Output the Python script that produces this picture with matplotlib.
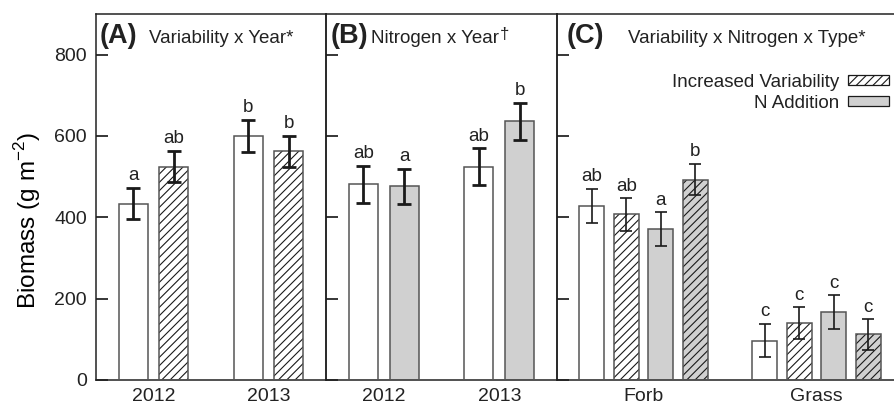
import matplotlib
matplotlib.use("Agg")
import matplotlib.pyplot as plt
from matplotlib.patches import Patch
import numpy as np

# ---- data ----
years = ["2012", "2013"]
types = ["Forb", "Grass"]

# (A) variability x year
a_ctrl = [434, 600]
a_ctrl_se = [39, 39]
a_var = [525, 562]
a_var_se = [39, 39]
a_ctrl_let = ["a", "b"]
a_var_let = ["ab", "b"]

# (B) nitrogen x year
b_ctrl = [481, 525]
b_ctrl_se = [45, 45]
b_n = [476, 636]
b_n_se = [44, 45]
b_ctrl_let = ["ab", "ab"]
b_n_let = ["a", "b"]

# (C) variability x nitrogen x type  (control, var, N, var+N)
c_ctrl = [428, 97]
c_ctrl_se = [42, 41]
c_var = [407, 140]
c_var_se = [40, 39]
c_n = [371, 167]
c_n_se = [41, 41]
c_vn = [493, 112]
c_vn_se = [38, 37]
c_ctrl_let = ["ab", "c"]
c_var_let = ["ab", "c"]
c_n_let = ["a", "c"]
c_vn_let = ["b", "c"]

GRAY = "#d0d0d0"
EDGE = "#555555"
INK = "#1a1a1a"

plt.rcParams["font.family"] = ["Liberation Sans", "DejaVu Sans"]
plt.rcParams["mathtext.fontset"] = "custom"
plt.rcParams["mathtext.rm"] = "Liberation Sans"
plt.rcParams["hatch.linewidth"] = 0.8
plt.rcParams["axes.linewidth"] = 1.1
plt.rcParams["axes.edgecolor"] = "#222222"
plt.rcParams["text.color"] = "#222222"
plt.rcParams["xtick.labelcolor"] = "#222222"
plt.rcParams["ytick.labelcolor"] = "#222222"

fig = plt.figure(figsize=(8.94, 4.05), dpi=100)
bot, hgt = 25 / 405, 366 / 405
axA = fig.add_axes([96 / 894, bot, 230 / 894, hgt])
axB = fig.add_axes([326 / 894, bot, 231 / 894, hgt])
axC = fig.add_axes([557 / 894, bot, 346 / 894, hgt])


def draw_bars(ax, x, vals, errs, letters, width, fill, hatch, elw, cap):
    ax.bar(x, vals, width, color=fill, hatch=hatch, edgecolor=INK, linewidth=0, zorder=2)
    ax.bar(x, vals, width, fill=False, edgecolor=EDGE, linewidth=1.1, zorder=3)
    ax.errorbar(x, vals, yerr=errs, fmt="none", ecolor=INK, elinewidth=elw,
                capsize=cap, capthick=elw, zorder=4)
    for xi, v, e, t in zip(x, vals, errs, letters):
        ax.text(xi, v + e + 9, t, ha="center", va="bottom", fontsize=13.5)


xg = np.arange(len(years))
draw_bars(axA, xg - 0.177, a_ctrl, a_ctrl_se, a_ctrl_let, 0.25, "white", None, 2, 4.7)
draw_bars(axA, xg + 0.177, a_var, a_var_se, a_var_let, 0.25, "white", "////", 2, 4.7)

draw_bars(axB, xg - 0.177, b_ctrl, b_ctrl_se, b_ctrl_let, 0.25, "white", None, 2, 4.7)
draw_bars(axB, xg + 0.177, b_n, b_n_se, b_n_let, 0.25, GRAY, None, 2, 4.7)

xt = np.arange(len(types))
draw_bars(axC, xt - 0.3, c_ctrl, c_ctrl_se, c_ctrl_let, 0.145, "white", None, 1.2, 4.3)
draw_bars(axC, xt - 0.1, c_var, c_var_se, c_var_let, 0.145, "white", "////", 1.2, 4.3)
draw_bars(axC, xt + 0.1, c_n, c_n_se, c_n_let, 0.145, GRAY, None, 1.2, 4.3)
draw_bars(axC, xt + 0.3, c_vn, c_vn_se, c_vn_let, 0.145, GRAY, "////", 1.2, 4.3)

for ax, labels in [(axA, years), (axB, years), (axC, types)]:
    ax.set_xlim(-0.5, 1.5)
    ax.set_ylim(0, 900)
    ax.set_xticks(np.arange(len(labels)))
    ax.set_xticklabels(labels)
    ax.set_yticks([0, 200, 400, 600, 800])
    ax.tick_params(axis="x", length=0, pad=6, labelsize=14)
    ax.tick_params(axis="y", direction="in", length=8.6, width=1.1, pad=6.5, labelsize=14)
    ax.set_facecolor("none")

axB.tick_params(axis="y", labelleft=False)
axC.tick_params(axis="y", labelleft=False)
axA.set_ylabel("Biomass (g m$^{-2}$)", fontsize=17.5)
axA.yaxis.set_label_coords(-0.23, 0.435)

# panel titles
tb = 0.922
axA.text(0.017, tb, "(A)", transform=axA.transAxes, fontsize=19.5, fontweight="bold")
axA.text(0.23, tb, "Variability x Year*", transform=axA.transAxes, fontsize=13.5)
axB.text(0.02, tb, "(B)", transform=axB.transAxes, fontsize=19.5, fontweight="bold")
tB = axB.text(0.195, tb, "Nitrogen x Year", transform=axB.transAxes, fontsize=13.5)
axB.annotate("\u2020", xy=(1, 0), xycoords=tB, xytext=(0.5, 3.5), textcoords="offset points",
             ha="left", va="bottom", fontsize=12)
axC.text(0.029, tb, "(C)", transform=axC.transAxes, fontsize=19.5, fontweight="bold")
axC.text(0.205, tb, "Variability x Nitrogen x Type*", transform=axC.transAxes, fontsize=13.5)

handles = [
    Patch(facecolor="white", edgecolor=INK, hatch="////", linewidth=0.9),
    Patch(facecolor=GRAY, edgecolor=INK, linewidth=0.9),
]
fig.legend(handles, ["Increased Variability", "N Addition"], loc="upper right",
           bbox_to_anchor=(889 / 894, 331 / 405), frameon=False, markerfirst=False,
           fontsize=13.5, handlelength=2.2, handleheight=0.45, handletextpad=0.45,
           labelspacing=0.2, borderpad=0, borderaxespad=0)

fig.savefig("out.png", dpi=100)
